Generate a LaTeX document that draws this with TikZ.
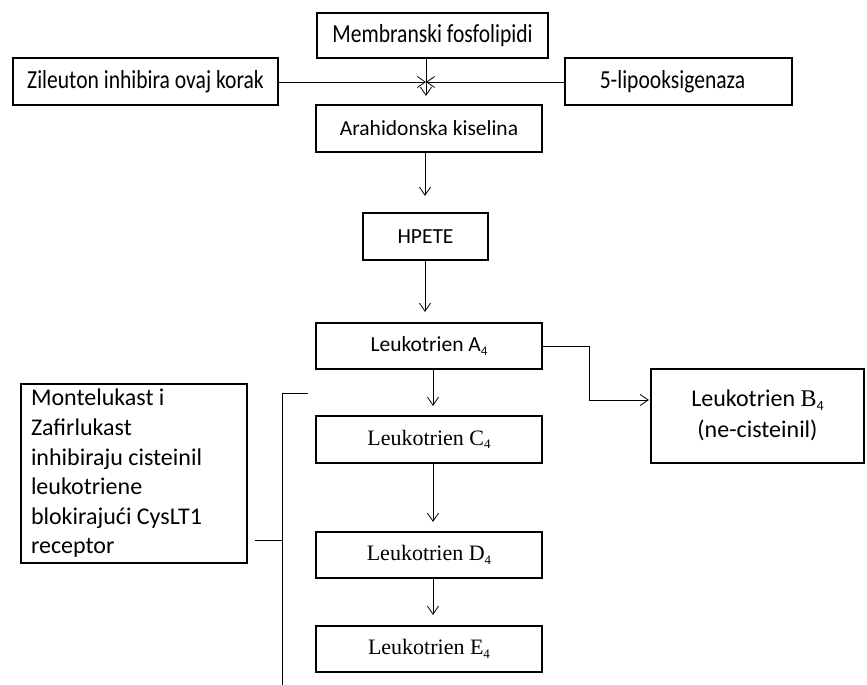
\documentclass[tikz,border=0pt]{standalone}
\usepackage{fontspec}
\setmainfont{Carlito}
\newfontfamily\tnr{Liberation Serif}
\newfontfamily\condfont[FakeStretch=0.83]{Carlito}
\usetikzlibrary{arrows.meta,calc}
\newcommand\lsub[2][13]{\raisebox{-3.5pt}{\fontsize{#1}{#1}\selectfont #2}}
\tikzset{
  box/.style={draw, line width=2.2pt, inner sep=0pt, align=center},
  cond/.style={font=\condfont\fontsize{26}{30}\selectfont},
  cal/.style={font=\fontsize{21.5}{26}\selectfont},
  tms/.style={font=\tnr\fontsize{22}{26}\selectfont},
  big/.style={font=\fontsize{24}{29.6}\selectfont},
  arr/.style={line width=0.8pt, -{Straight Barb[length=8pt,width=11pt,line width=0.8pt]}},
  conn/.style={line width=0.8pt}
}
\begin{document}
\begin{tikzpicture}[x=1pt,y=-1pt]
\useasboundingbox (0,0) rectangle (867,685);
% boxes
\node[box, cond, minimum width=231pt, minimum height=45pt] (mem) at (432.5,35.5) {Membranski fosfolipidi};
\node[box, cond, minimum width=265pt, minimum height=47pt] (zil) at (145.5,81.5) {Zileuton inhibira ovaj korak};
\node[box, cond, minimum width=227pt, minimum height=47pt] (lipo) at (678.5,81.5) {5-lipooksigenaza\hspace{12pt}};
\node[box, cal, minimum width=226pt, minimum height=47pt] (ara) at (429,128.5) {Arahidonska kiselina};
\node[box, cal, minimum width=125pt, minimum height=47pt] (hpete) at (425.5,236.5) {HPETE};
\node[box, cal, minimum width=226pt, minimum height=46pt] (a4) at (429,346) {Leukotrien A\lsub{4}};
\node[box, big, minimum width=213pt, minimum height=94pt] (b4) at (757.5,416)
  {\raisebox{-5pt}{\fontsize{24}{31}\selectfont\begin{tabular}{@{}c@{}}Leukotrien {\tnr B}\lsub[14]{4}\\(ne-cisteinil)\end{tabular}}};
\node[box, tms, minimum width=226pt, minimum height=47pt] (c4) at (429,439.5) {Leukotrien C\lsub{4}};
\node[box, tms, minimum width=226pt, minimum height=46pt] (d4) at (429,555) {Leukotrien D\lsub{4}};
\node[box, tms, minimum width=226pt, minimum height=46pt] (e4) at (429,649) {Leukotrien E\lsub{4}};
\node[box, big, align=flush left, text width=206pt, inner xsep=10pt, minimum width=226pt, minimum height=179pt] (mont) at (134,473.5)
  {Montelukast i\\Zafirlukast\\inhibiraju cisteinil\\leukotriene\\blokirajući CysLT1\\receptor};
% connectors
\coordinate (cross) at (426,82);
\draw[arr, shorten >=8pt] (mem.south -| cross) -- (ara.north -| cross);
\draw[arr] (zil.east |- cross) -- (cross);
\draw[arr] (lipo.west |- cross) -- (cross);
\coordinate (xa) at (425,0);
\draw[arr, shorten >=16pt] (ara.south -| xa) -- (hpete.north -| xa);
\draw[arr, shorten >=10pt] (hpete.south -| xa) -- (a4.north -| xa);
\coordinate (xb) at (433,0);
\draw[arr, shorten >=9pt] (a4.south -| xb) -- (c4.north -| xb);
\draw[arr, shorten >=9pt] (c4.south -| xb) -- (d4.north -| xb);
\draw[arr, shorten >=10pt] (d4.south -| xb) -- (e4.north -| xb);
\coordinate (bend) at (589,400);
\draw[arr, shorten >=1pt] (a4.east) -| (bend) -- (bend -| b4.west);
% bracket
\coordinate (brtop) at (282,393);
\coordinate (brtip) at (308,393);
\coordinate (brbot) at (282,686);
\coordinate (brjoin) at (282,540);
\draw[conn] (brtip) -- (brtop) -- (brbot);
\draw[conn] ($(mont.east |- brjoin)+(7,0)$) -- (brjoin);
\end{tikzpicture}
\end{document}
